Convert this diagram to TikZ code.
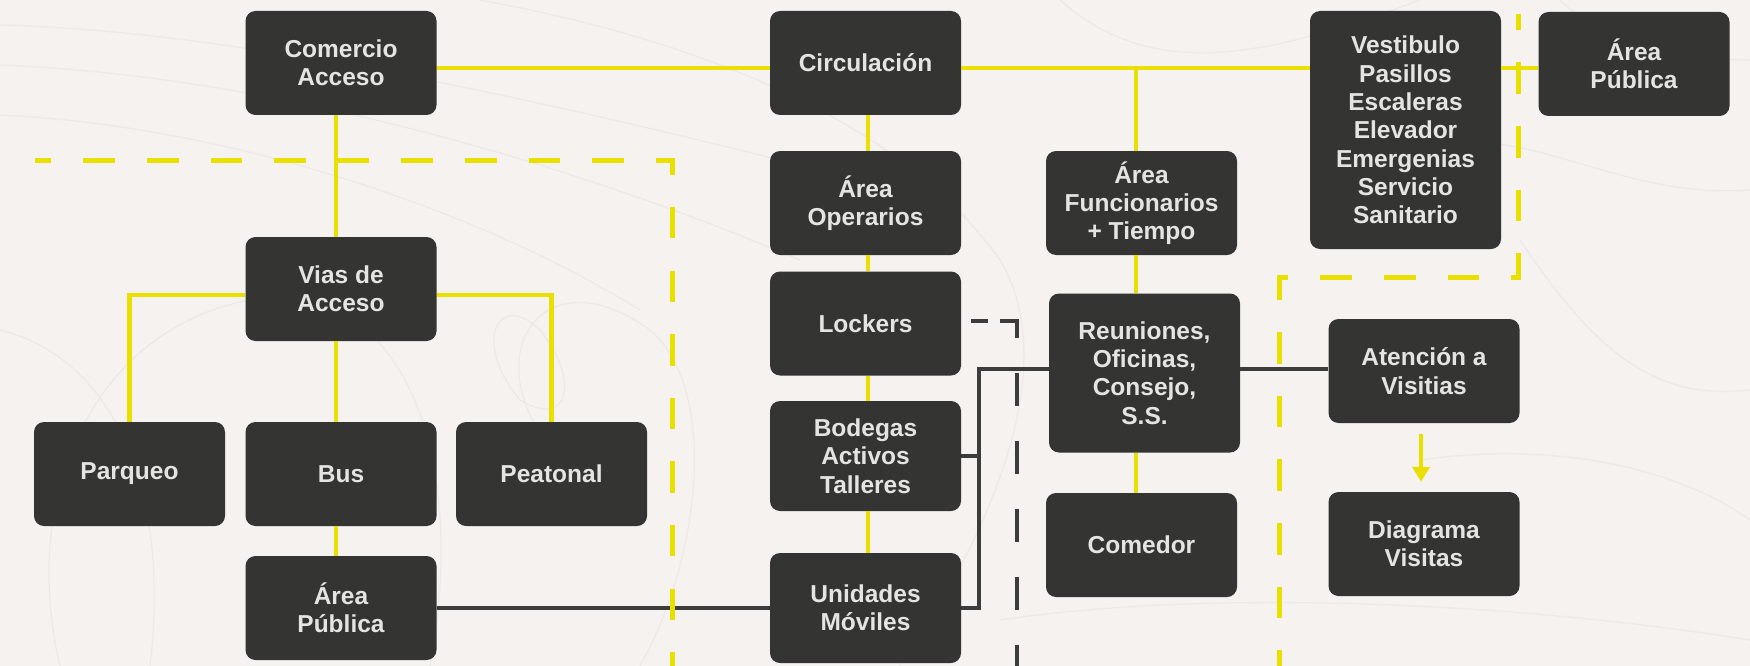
\documentclass[tikz,border=0pt]{standalone}
\usepackage{fontspec}
\setmainfont{Liberation Sans}
\usetikzlibrary{arrows.meta}
\definecolor{bgc}{HTML}{F5F2F0}
\definecolor{boxc}{HTML}{343432}
\definecolor{txtc}{HTML}{E4E4E2}
\definecolor{yel}{HTML}{EAE000}
\definecolor{drk}{HTML}{3C3C3A}
\definecolor{topo}{HTML}{EDE9E6}
\begin{document}
\begin{tikzpicture}[x=1pt,y=-1pt,
  box/.style={fill=boxc, rounded corners=10pt, minimum width=191pt, minimum height=104pt,
    inner sep=0pt, align=center, text=txtc,
    font=\fontsize{24.5pt}{28.3pt}\selectfont\bfseries},
  yline/.style={draw=yel, line width=4.5pt},
  dline/.style={draw=drk, line width=4pt},
  ydash/.style={draw=yel, line width=5pt, dash pattern=on 31.5pt off 32.1pt, dash phase=15.2pt},
  ddash/.style={draw=drk, line width=4pt, dash pattern=on 33pt off 35pt},
  topoline/.style={draw=topo, line width=1.3pt}
]
\fill[bgc] (0,0) rectangle (1750,666);
\useasboundingbox (0,0) rectangle (1750,666);

% faint contour background
\begin{scope}[topoline]
\draw (0,25) .. controls (220,30) and (520,95) .. (780,160);
\draw (0,65) .. controls (250,75) and (540,150) .. (800,260);
\draw (0,115) .. controls (220,125) and (470,205) .. (640,310);
\draw (60,666) .. controls (20,500) and (90,330) .. (250,300) .. controls (400,275) and (470,450) .. (430,666);
\draw (0,330) .. controls (120,360) and (170,500) .. (150,666);
\draw (520,400) .. controls (470,340) and (500,290) .. (540,330) .. controls (580,380) and (570,430) .. (520,400);
\draw (560,460) .. controls (470,360) and (540,250) .. (650,330) .. controls (720,390) and (700,560) .. (640,666);
\draw (480,0) .. controls (700,40) and (900,120) .. (1000,260) .. controls (1060,360) and (1000,520) .. (900,666);
\draw (1060,0) .. controls (1150,80) and (1260,60) .. (1420,0);
\draw (1440,150) .. controls (1520,120) and (1620,200) .. (1750,190);
\draw (1520,240) .. controls (1600,360) and (1660,400) .. (1750,390);
\draw (1420,460) .. controls (1560,440) and (1680,470) .. (1750,520);
\draw (1000,620) .. controls (1200,590) and (1500,600) .. (1750,640);
\draw (1560,0) .. controls (1600,40) and (1680,60) .. (1750,60);
\end{scope}

% boxes
\node[box] (com) at (341,63) {Comercio\\Acceso};
\node[box] (circ) at (865.5,63) {Circulación};
\node[box, minimum height=238pt] (vest) at (1405.5,130) {Vestibulo\\Pasillos\\Escaleras\\Elevador\\Emergenias\\Servicio\\Sanitario};
\node[box] (apubT) at (1634,64) {Área\\Pública};
\node[box] (aop) at (865.5,203) {Área\\Operarios};
\node[box] (afun) at (1141.5,203) {Área\\Funcionarios\\+ Tiempo};
\node[box] (vias) at (341,289) {Vias de\\Acceso};
\node[box] (lock) at (865.5,323.5) {Lockers};
\node[box, minimum height=159pt] (reun) at (1144.5,373) {Reuniones,\\Oficinas,\\Consejo,\\S.S.};
\node[box] (aten) at (1424,371) {Atención a\\Visitias};
\node[box] (parq) at (129.5,474) {Parqueo};
\node[box] (bus) at (341,474) {Bus};
\node[box] (peat) at (551.5,474) {Peatonal};
\node[box, minimum height=110pt] (bod) at (865.5,456) {Bodegas\\Activos\\Talleres};
\node[box] (apubB) at (341,608) {Área\\Pública};
\node[box] (come) at (1141.5,545) {Comedor};
\node[box] (diag) at (1424,544) {Diagrama\\Visitas};
\node[box, minimum height=110pt] (unid) at (865.5,608) {Unidades\\Móviles};

% yellow solid connectors
\coordinate (j1) at (1136,68);
\draw[yline] ([yshift=-5pt]com.east) -- ([yshift=-5pt]circ.west);
\draw[yline] ([yshift=-5pt]circ.east) -- (j1) -- (vest.west |- j1);
\draw[yline] (j1) -- (j1 |- afun.north);
\draw[yline] (vest.east |- j1) -- (apubT.west |- j1);
\draw[yline] ([xshift=-5pt]com.south) -- ([xshift=-5pt]vias.north);
\draw[yline] ([yshift=-6pt]vias.west) -| (parq.north);
\draw[yline] ([yshift=-6pt]vias.east) -| (peat.north);
\draw[yline] ([xshift=-5pt]vias.south) -- ([xshift=-5pt]bus.north);
\draw[yline] ([xshift=-5pt]bus.south) -- ([xshift=-5pt]apubB.north);
\draw[yline] ([xshift=2.5pt]circ.south) -- ([xshift=2.5pt]aop.north);
\draw[yline] ([xshift=2.5pt]aop.south) -- ([xshift=2.5pt]lock.north);
\draw[yline] ([xshift=2.5pt]lock.south) -- ([xshift=2.5pt]bod.north);
\draw[yline] ([xshift=2.5pt]bod.south) -- ([xshift=2.5pt]unid.north);
\draw[yline] (j1 |- afun.south) -- (j1 |- reun.north);
\draw[yline] (j1 |- reun.south) -- (j1 |- come.north);
\draw[yline, -{Triangle[width=17pt,length=15pt]}] ([xshift=-3pt,yshift=-11pt]aten.south) -- ([xshift=-3pt,yshift=10pt]diag.north);

% dark connectors
\coordinate (k) at (979,369);
\draw[dline] (apubB.east) -- (unid.west);
\draw[dline] (reun.west |- k) -- (k) -- (k |- unid.east) -- (unid.east);
\draw[dline] (bod.east) -- (k |- bod.east);
\draw[dline] (reun.east |- k) -- (aten.west |- k);

% dark dashed
\coordinate (ddend) at (1016.7,666);
\draw[dline] ([xshift=10pt,yshift=2.5pt]lock.east) -- ++(17,0);
\draw[ddash] ([xshift=39pt,yshift=2.5pt]lock.east) -| (ddend);

% yellow dashed zones
\coordinate (yl0) at (35,160.3);
\coordinate (yl1) at (672.8,160.3);
\coordinate (yl2) at (672.8,666);
\draw[ydash] (yl0) -- (yl1) -- (yl2);
\coordinate (yr0) at (1518.6,14);
\coordinate (yr1) at (1518.6,277.3);
\coordinate (yr2) at (1279.6,277.3);
\coordinate (yr3) at (1279.6,666);
\draw[ydash] (yr0) -- (yr1) -- (yr2) -- (yr3);
\end{tikzpicture}
\end{document}
